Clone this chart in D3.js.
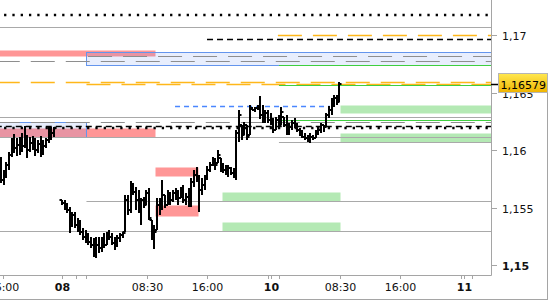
<!DOCTYPE html>
<html>
<head>
<meta charset="utf-8">
<script src="https://cdn.jsdelivr.net/npm/d3@7"></script>
<style>
  body { margin: 0; background: #fff; }
  svg { display: block; }
</style>
</head>
<body>
<div id="chart"></div>
<script>
// OHLC bars, two sessions (first 21 bars, then 106 bars)
const sessionStart = [0, 23];
const sessionBars = [21, 106];

const opens = [
  1.15916,1.15742,1.15786,1.15873,1.15960,1.16073,1.16021,1.16047,1.16090,1.16038,1.16107,1.16003,1.16064,1.16029,1.16003,1.16055,1.15986,1.16038,1.16090,1.16186,1.16151,
  1.15568,1.15542,1.15499,1.15481,1.15351,1.15438,1.15351,1.15325,1.15290,1.15247,
  1.15220,1.15203,1.15177,1.15116,1.15177,1.15151,1.15220,1.15177,1.15264,1.15247,
  1.15194,1.15177,1.15238,1.15264,1.15290,1.15568,1.15481,1.15699,1.15638,1.15568,
  1.15525,1.15568,1.15525,1.15629,1.15394,1.15264,1.15307,1.15525,1.15568,1.15612,
  1.15525,1.15612,1.15568,1.15629,1.15612,1.15586,1.15655,1.15568,1.15594,1.15525,
  1.15725,1.15786,1.15760,1.15655,1.15699,1.15760,1.15829,1.15873,1.15916,1.15890,
  1.15934,1.15847,1.15829,1.15812,1.15847,1.15803,1.15769,1.16151,1.16221,1.16134,
  1.16221,1.16134,1.16368,1.16351,1.16368,1.16377,1.16307,1.16281,1.16325,1.16264,
  1.16247,1.16177,1.16264,1.16221,1.16290,1.16221,1.16160,1.16203,1.16238,1.16221,
  1.16177,1.16134,1.16116,1.16107,1.16090,1.16116,1.16107,1.16160,1.16177,1.16221,
  1.16203,1.16307,1.16351,1.16438,1.16455,1.16420
];
const highs = [
  1.15942,1.15829,1.15899,1.15986,1.16107,1.16142,1.16107,1.16116,1.16151,1.16212,1.16134,1.16116,1.16125,1.16107,1.16090,1.16125,1.16090,1.16107,1.16203,1.16203,1.16203,
  1.15568,1.15568,1.15542,1.15508,1.15464,1.15464,1.15412,1.15394,1.15325,1.15307,
  1.15282,1.15247,1.15238,1.15247,1.15247,1.15247,1.15282,1.15290,1.15307,1.15282,
  1.15247,1.15264,1.15282,1.15290,1.15612,1.15612,1.15734,1.15716,1.15682,1.15655,
  1.15586,1.15594,1.15655,1.15673,1.15394,1.15351,1.15586,1.15586,1.15742,1.15612,
  1.15655,1.15638,1.15655,1.15673,1.15655,1.15682,1.15699,1.15629,1.15673,1.15760,
  1.15829,1.15855,1.15786,1.15760,1.15786,1.15864,1.15899,1.15942,1.15934,1.16003,
  1.15934,1.15890,1.15873,1.15873,1.15855,1.15847,1.16177,1.16351,1.16221,1.16247,
  1.16221,1.16394,1.16377,1.16377,1.16394,1.16473,1.16394,1.16351,1.16351,1.16325,
  1.16281,1.16290,1.16307,1.16377,1.16290,1.16307,1.16238,1.16264,1.16281,1.16238,
  1.16194,1.16177,1.16151,1.16134,1.16151,1.16134,1.16177,1.16203,1.16238,1.16221,
  1.16325,1.16386,1.16455,1.16481,1.16481,1.16594
];
const lows = [
  1.15716,1.15699,1.15760,1.15829,1.15942,1.15977,1.15951,1.15960,1.15986,1.16021,1.15934,1.15986,1.16003,1.15951,1.15977,1.15942,1.15960,1.16021,1.16064,1.16090,1.16116,
  1.15525,1.15481,1.15455,1.15282,1.15334,1.15325,1.15290,1.15264,1.15220,1.15194,
  1.15177,1.15151,1.15073,1.15064,1.15107,1.15116,1.15151,1.15177,1.15220,1.15177,
  1.15134,1.15160,1.15203,1.15238,1.15290,1.15438,1.15455,1.15612,1.15481,1.15455,
  1.15351,1.15499,1.15525,1.15394,1.15220,1.15142,1.15307,1.15438,1.15481,1.15499,
  1.15525,1.15525,1.15551,1.15568,1.15525,1.15586,1.15542,1.15525,1.15508,1.15508,
  1.15682,1.15725,1.15464,1.15612,1.15655,1.15742,1.15812,1.15864,1.15829,1.15890,
  1.15812,1.15803,1.15786,1.15769,1.15786,1.15760,1.15742,1.16073,1.16090,1.16134,
  1.16090,1.16134,1.16351,1.16334,1.16351,1.16273,1.16238,1.16238,1.16238,1.16221,
  1.16151,1.16177,1.16203,1.16221,1.16203,1.16134,1.16134,1.16177,1.16194,1.16160,
  1.16125,1.16107,1.16090,1.16073,1.16064,1.16090,1.16107,1.16134,1.16151,1.16160,
  1.16203,1.16281,1.16307,1.16377,1.16394,1.16420
];
const closes = [
  1.15742,1.15786,1.15873,1.15960,1.16073,1.16021,1.16047,1.16090,1.16038,1.16107,1.16003,1.16064,1.16029,1.16003,1.16055,1.15986,1.16038,1.16090,1.16186,1.16151,1.16194,
  1.15542,1.15499,1.15481,1.15351,1.15438,1.15351,1.15325,1.15290,1.15247,1.15220,
  1.15203,1.15177,1.15116,1.15177,1.15151,1.15220,1.15177,1.15264,1.15247,1.15194,
  1.15177,1.15238,1.15264,1.15282,1.15568,1.15481,1.15699,1.15638,1.15568,1.15525,
  1.15568,1.15525,1.15629,1.15412,1.15264,1.15290,1.15525,1.15568,1.15612,1.15525,
  1.15612,1.15568,1.15629,1.15612,1.15586,1.15655,1.15568,1.15594,1.15525,1.15725,
  1.15786,1.15760,1.15655,1.15699,1.15760,1.15829,1.15873,1.15916,1.15873,1.15960,
  1.15847,1.15829,1.15812,1.15847,1.15803,1.15769,1.16151,1.16307,1.16134,1.16221,
  1.16116,1.16368,1.16351,1.16368,1.16377,1.16307,1.16281,1.16325,1.16264,1.16247,
  1.16177,1.16264,1.16221,1.16334,1.16221,1.16160,1.16203,1.16238,1.16221,1.16177,
  1.16134,1.16116,1.16107,1.16090,1.16116,1.16107,1.16160,1.16177,1.16221,1.16203,
  1.16307,1.16351,1.16438,1.16455,1.16420,1.16579
];

const lastPrice = 1.16579;

// price axis ticks
const priceTicks = [1.15, 1.155, 1.16, 1.165, 1.17];
const priceTickLabels = ['1,15', '1,155', '1,16', '1,165', '1,17'];
const priceTickBold = [true, false, false, false, false];

// time axis (in bar slots)
const timeTicks = [0.64, 23.2, 55.1, 78.0, 102.0, 128.2, 151.0, 175.1];
const timeTickLabels = ['16:00', '08', '08:30', '16:00', '10', '08:30', '16:00', '11'];
const timeTickBold = [false, true, false, false, true, false, false, true];
const minorTimeTicks = [28.4, 32.3, 101.06, 105.2, 173.8, 178.3];

// zones: [upper price, lower price, from slot, to slot, kind]
const zones = [
  [1.16872, 1.16820, -2, 58.2, 'red'],
  [1.16197, 1.16116, -2, 58.2, 'red'],
  [1.15853, 1.15780, 58.2, 74.5, 'red'],
  [1.15525, 1.15432, 58.2, 74.5, 'red'],
  [1.16852, 1.16739, 32.3, 190, 'blue'],
  [1.16246, 1.16116, -2, 32.3, 'blue'],
  [1.16397, 1.16325, 128.2, 190, 'green'],
  [1.16151, 1.16073, 128.2, 190, 'green'],
  [1.15638, 1.15560, 83.6, 128.2, 'green'],
  [1.15380, 1.15299, 83.6, 128.2, 'green']
];

// levels: [price, from slot, to slot, kind]
const levels = [
  [1.17177, -2, 190, 'dotted'],
  [1.17072, -2, 190, 'gray'],
  [1.17003, 104.7, 190, 'orangeDash'],
  [1.16965, 77.9, 190, 'blackDash'],
  [1.16817, 32.9, 190, 'grayDash'],
  [1.16779, -2, 190, 'grayDash'],
  [1.16738, 105.1, 190, 'green'],
  [1.16597, -2, 190, 'orangeDash'],
  [1.16577, 32.3, 190, 'orangeDash'],
  [1.16565, 105.1, 190, 'green'],
  [1.16383, 65.8, 124.4, 'blueDash'],
  [1.16287, -2, 190, 'gray'],
  [1.16261, 105.1, 190, 'green'],
  [1.16244, -2, 190, 'grayDash'],
  [1.16213, -2, 190, 'blackDash'],
  [1.16190, -2, 190, 'dotted'],
  [1.16116, -2, 190, 'gray'],
  [1.16073, 105.1, 190, 'gray'],
  [1.15557, 32.3, 190, 'gray'],
  [1.15296, -2, 190, 'gray']
];

const zoneStyle = {
  red:   { fill: '#ff9696', stroke: 'none' },
  blue:  { fill: 'rgba(100,140,240,0.15)', stroke: '#6495ed' },
  green: { fill: '#b4e9b4', stroke: 'none' }
};
const levelStyle = {
  dotted:     { color: '#000', width: 2.3, dash: '2.3,6' },
  gray:       { color: '#a9a9a9', width: 1.2, dash: null },
  grayDash:   { color: '#8e8e8e', width: 1.2, dash: '24,11' },
  orangeDash: { color: '#ffb71a', width: 1.3, dash: '24,11' },
  blackDash:  { color: '#000', width: 1.3, dash: '6,4' },
  blueDash:   { color: '#4a86ff', width: 1.3, dash: '5,4' },
  green:      { color: '#3fcf3f', width: 1.2, dash: null }
};

const width = 550, height = 300;
const plotW = 491, plotH = 275;

const x = d3.scaleLinear().domain([-0.4, 185.3]).range([0, plotW]);
const y = d3.scaleLinear().domain([1.15, 1.17]).range([265.4, 35.3]);
const crisp = v => Math.round(v) + 0.5;

const svg = d3.select('#chart').append('svg')
  .attr('width', width)
  .attr('height', height)
  .style('font-family', '"DejaVu Sans", Verdana, sans-serif');

svg.append('clipPath').attr('id', 'plotClip')
  .append('rect').attr('width', plotW).attr('height', plotH);

const plot = svg.append('g').attr('clip-path', 'url(#plotClip)');

// zones
const zoneOrder = ['red', 'blue', 'green'];
zoneOrder.forEach(kind => {
  zones.filter(z => z[4] === kind).forEach(z => {
    const x0 = Math.round(x(z[2])), x1 = Math.round(x(z[3]));
    const y0 = Math.round(y(z[0])), y1 = Math.round(y(z[1]));
    plot.append('rect')
      .attr('x', x0 + 0.5).attr('y', y0 + 0.5)
      .attr('width', x1 - x0).attr('height', y1 - y0)
      .attr('fill', zoneStyle[kind].fill)
      .attr('stroke', zoneStyle[kind].stroke)
      .attr('stroke-width', 1);
  });
});

// levels
levels.forEach(l => {
  const s = levelStyle[l[3]];
  const yy = s.width > 2 ? Math.round(y(l[0])) : crisp(y(l[0]));
  plot.append('line')
    .attr('x1', x(l[1])).attr('x2', x(l[2]))
    .attr('y1', yy).attr('y2', yy)
    .attr('stroke', s.color)
    .attr('stroke-width', s.width)
    .attr('stroke-dasharray', s.dash);
});

// bars
const bars = [];
let idx = 0;
sessionStart.forEach((start, s) => {
  for (let j = 0; j < sessionBars[s]; j++) {
    bars.push({ slot: start + j, o: opens[idx], h: highs[idx], l: lows[idx], c: closes[idx] });
    idx++;
  }
});

plot.selectAll('path.bar')
  .data(bars)
  .enter()
  .append('path')
  .attr('class', 'bar')
  .attr('d', d => {
    const xi = Math.round(x(d.slot));
    const yh = Math.round(y(d.h)), yl = Math.max(Math.round(y(d.l)), yh + 2);
    return `M${xi},${yh}V${yl}M${xi - 2.5},${Math.round(y(d.o))}H${xi}M${xi},${Math.round(y(d.c))}H${xi + 2.5}`;
  })
  .attr('fill', 'none')
  .attr('stroke', '#000')
  .attr('stroke-width', 2);

// frame lines
const axisColor = '#a5a5a5';
svg.append('line').attr('x1', plotW + 0.5).attr('x2', plotW + 0.5).attr('y1', 0).attr('y2', plotH + 0.5)
  .attr('stroke', axisColor);
svg.append('line').attr('x1', 0).attr('x2', plotW + 0.5).attr('y1', plotH + 0.5).attr('y2', plotH + 0.5)
  .attr('stroke', axisColor);
svg.append('line').attr('x1', 0).attr('x2', 548).attr('y1', 299.5).attr('y2', 299.5)
  .attr('stroke', axisColor);
svg.append('line').attr('x1', 547.5).attr('x2', 547.5).attr('y1', 84).attr('y2', 300)
  .attr('stroke', axisColor);

// price axis
const yAxis = svg.append('g');
priceTicks.forEach((p, i) => {
  const yy = crisp(y(p));
  yAxis.append('line').attr('x1', plotW).attr('x2', plotW + 6).attr('y1', yy).attr('y2', yy)
    .attr('stroke', axisColor);
  yAxis.append('text')
    .attr('x', 502).attr('y', yy + 4)
    .style('font-size', '11px')
    .style('font-weight', priceTickBold[i] ? 'bold' : 'normal')
    .attr('fill', '#111')
    .text(priceTickLabels[i]);
});

// time axis
const xAxis = svg.append('g');
minorTimeTicks.forEach(t => {
  const xx = crisp(x(t));
  xAxis.append('line').attr('x1', xx).attr('x2', xx).attr('y1', plotH).attr('y2', plotH + 4)
    .attr('stroke', axisColor);
});
timeTicks.forEach((t, i) => {
  const xx = crisp(x(t));
  xAxis.append('line').attr('x1', xx).attr('x2', xx).attr('y1', plotH).attr('y2', plotH + 4)
    .attr('stroke', axisColor);
  xAxis.append('text')
    .attr('x', xx).attr('y', 291)
    .attr('text-anchor', 'middle')
    .style('font-size', '11px')
    .style('font-weight', timeTickBold[i] ? 'bold' : 'normal')
    .attr('fill', '#111')
    .text(timeTickLabels[i]);
});

// last price marker
const grad = svg.append('defs').append('linearGradient')
  .attr('id', 'priceGrad').attr('x1', 0).attr('x2', 0).attr('y1', 0).attr('y2', 1);
grad.append('stop').attr('offset', '0%').attr('stop-color', '#ffe850');
grad.append('stop').attr('offset', '100%').attr('stop-color', '#f0b400');

const yp = Math.round(y(lastPrice));
svg.append('line').attr('x1', plotW).attr('x2', 498).attr('y1', yp + 0.5).attr('y2', yp + 0.5)
  .attr('stroke', '#000').attr('stroke-width', 1.5);
svg.append('rect')
  .attr('x', 498.5).attr('y', yp - 10.5)
  .attr('width', 49).attr('height', 19)
  .attr('fill', 'url(#priceGrad)')
  .attr('stroke', '#b5b5b5');
svg.append('text')
  .attr('x', 500.5).attr('y', yp + 4.5)
  .style('font-size', '11px')
  .attr('fill', '#000')
  .text(d3.format('.5f')(lastPrice).replace('.', ','));
</script>
</body>
</html>
